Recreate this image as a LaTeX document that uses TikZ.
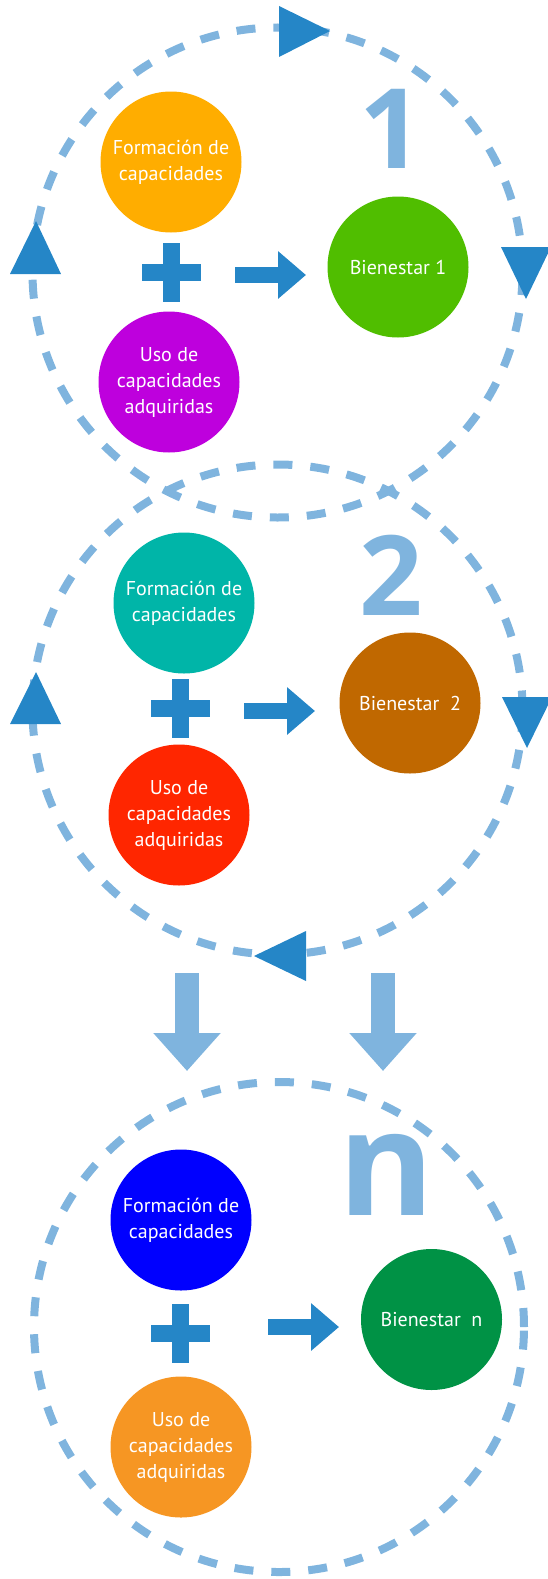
\documentclass[tikz,border=0pt]{standalone}
\usepackage{fontspec}
\setmainfont{PT Sans}
\newfontfamily\numfont{Open Sans}
\usepackage{tikz}
\usetikzlibrary{positioning,arrows.meta}

\definecolor{ringblue}{RGB}{127,180,222}
\definecolor{darkblue}{RGB}{37,134,199}
\definecolor{cOrange}{RGB}{255,173,0}
\definecolor{cPurple}{RGB}{190,0,221}
\definecolor{cGreen}{RGB}{80,190,0}
\definecolor{cTeal}{RGB}{0,181,168}
\definecolor{cRed}{RGB}{255,38,0}
\definecolor{cBrown}{RGB}{192,104,0}
\definecolor{cBlue}{RGB}{0,0,255}
\definecolor{cOrangeB}{RGB}{246,150,35}
\definecolor{cDkGreen}{RGB}{0,146,69}

\newcommand{\plussign}[1]{%
  \fill[darkblue] (#1) ++(-8.5,-29.5) rectangle ++(17,59);
  \fill[darkblue] (#1) ++(-29.5,-8.5) rectangle ++(59,17);}

\begin{document}
\begin{tikzpicture}[
          x=1pt, y=-1pt,
          ring/.style={circle, draw=ringblue, line width=8pt, dash pattern=on 19pt off 18pt, minimum size=490pt, inner sep=0pt},
          bubble/.style={circle, minimum size=141pt, inner sep=0pt, align=center, text=white, font=\fontsize{20}{26}\selectfont},
          bignum/.style={inner sep=0pt, text=ringblue},
          blockarr/.style={line width=16pt, darkblue, -{Triangle[width=46pt,length=28pt]}},
          downarr/.style={line width=24pt, ringblue, -{Triangle[width=65pt,length=38pt]}},
          tri/.style={fill=darkblue}
      ]
        \useasboundingbox (0,0) rectangle (548,1579);
        % dashed cycles
        \node[ring] (ring1) at (277.5,272.5) {};
        \node[ring] (ring2) at (277.5,709.5) {};
        \node[ring] (ring3) at (279,1327) {};
        % direction marks on the cycles
        \fill[tri] (279,6) -- (330,31) -- (279,57) -- cycle;
        \fill[tri] (36,221) -- (61,274) -- (10,274) -- cycle;
        \fill[tri] (501,247) -- (551,247) -- (526,299) -- cycle;
        \fill[tri] (36,672) -- (61,724) -- (10,724) -- cycle;
        \fill[tri] (502,697) -- (552,697) -- (527,748) -- cycle;
        \fill[tri] (254,956) -- (306,931) -- (306,981) -- cycle;

        % cycle 1
        \node[bubble, fill=cOrange] (form1) at (171,162) {Formación de\\capacidades};
        \node[bubble, fill=cPurple] (uso1) at (169,382) {Uso de\\capacidades\\adquiridas};
        \node[bubble, fill=cGreen] (bien1) at (398,267) {Bienestar 1};
        \node[bignum, font=\numfont\bfseries\fontsize{111}{111}\selectfont] (num1) at (391,129) {1};
        \plussign{171.5,272.5}
        \coordinate (a1s) at (235,275);
        \coordinate (a1e) at (306,275);
        \draw[blockarr] (a1s) -- (a1e);

        % cycle 2
        \node[bubble, fill=cTeal] (form2) at (184,603) {Formación de\\capacidades};
        \node[bubble, fill=cRed] (uso2) at (179,815) {Uso de\\capacidades\\adquiridas};
        \node[bubble, fill=cBrown] (bien2) at (410,703) {Bienestar\ \ 2};
        \node[bignum, font=\numfont\bfseries\fontsize{111}{111}\selectfont] (num2) at (391,575.5) {2};
        \plussign{180.5,708.5}
        \coordinate (a2s) at (244,711);
        \coordinate (a2e) at (315,711);
        \draw[blockarr] (a2s) -- (a2e);

        % towards cycle n
        \coordinate (d1s) at (187,973);
        \coordinate (d1e) at (187,1071);
        \coordinate (d2s) at (383,973);
        \coordinate (d2e) at (383,1071);
        \draw[downarr] (d1s) -- (d1e);
        \draw[downarr] (d2s) -- (d2e);

        % cycle n
        \node[bubble, fill=cBlue] (form3) at (181,1220) {Formación de\\capacidades};
        \node[bubble, fill=cOrangeB] (uso3) at (181,1447) {Uso de\\capacidades\\adquiridas};
        \node[bubble, fill=cDkGreen] (bien3) at (431.5,1319.5) {Bienestar\ \ n};
        \node[bignum, font=\numfont\bfseries\fontsize{146}{146}\selectfont] (num3) at (386,1175) {n};
        \plussign{180.5,1333.5}
        \coordinate (a3s) at (268,1327);
        \coordinate (a3e) at (339,1327);
        \draw[blockarr] (a3s) -- (a3e);
      \end{tikzpicture}
\end{document}
